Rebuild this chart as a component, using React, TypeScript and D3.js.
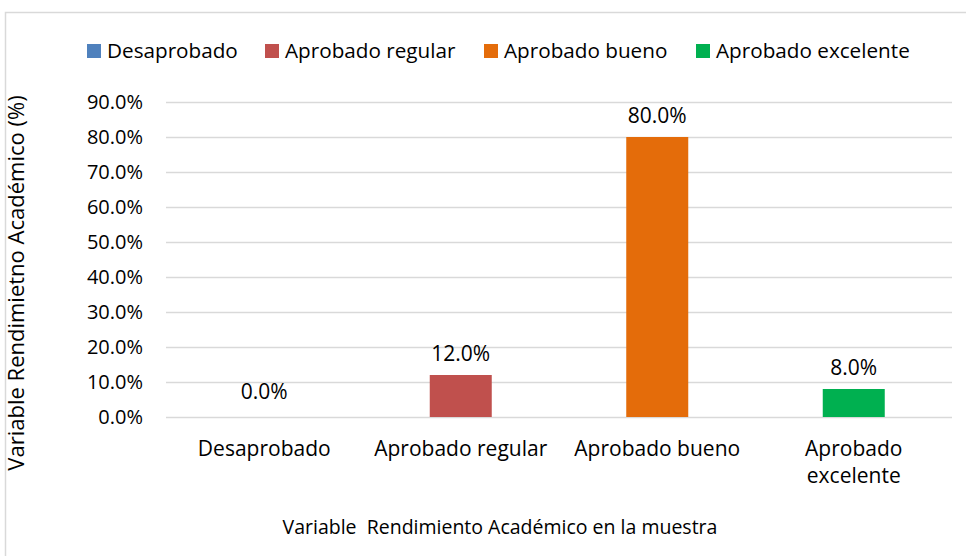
import React, { useEffect, useRef } from 'react';
import * as d3 from 'd3';

const categories = ['Desaprobado', 'Aprobado regular', 'Aprobado bueno', 'Aprobado excelente'];
const tickLines = [['Desaprobado'], ['Aprobado regular'], ['Aprobado bueno'], ['Aprobado', 'excelente']];
const values = [0.0, 12.0, 80.0, 8.0];
const colors = ['#4f81bd', '#c0504d', '#e46c0a', '#00b050'];
const yTicks = [0, 10, 20, 30, 40, 50, 60, 70, 80, 90];

const yTitle = 'Variable Rendimietno Académico (%)';
const xTitle = 'Variable  Rendimiento Académico en la muestra';

const W = 966;
const H = 556;
const FONT = "'Open Sans', 'Noto Sans', sans-serif";

const App = () => {
    const ref = useRef<SVGSVGElement>(null);

    useEffect(() => {
        const svg = d3.select(ref.current)
            .attr('width', W)
            .attr('height', H)
            .style('position', 'absolute')
            .style('left', 0)
            .style('top', 0)
            .style('font-family', FONT)
            .style('background', '#fff');

        svg.selectAll('*').remove();

        // chart frame (runs off the right and bottom edge)
        svg.append('rect')
            .attr('x', 5.5)
            .attr('y', 12.5)
            .attr('width', 1000)
            .attr('height', 600)
            .attr('fill', '#fff')
            .attr('stroke', '#d9d9d9')
            .attr('stroke-width', 1.5);

        const left = 166, right = 952, top = 102, bottom = 417;

        const x = d3.scaleBand()
            .domain(categories)
            .range([left, right])
            .padding(0);

        const y = d3.scaleLinear()
            .domain([0, 90])
            .range([bottom, top]);

        // grid
        svg.append('g')
            .selectAll('line')
            .data(yTicks)
            .enter()
            .append('line')
            .attr('x1', left)
            .attr('x2', right)
            .attr('y1', d => Math.round(y(d)) + 0.5)
            .attr('y2', d => Math.round(y(d)) + 0.5)
            .attr('stroke', '#d9d9d9')
            .attr('stroke-width', 1.5);

        // y tick labels
        svg.append('g')
            .selectAll('text')
            .data(yTicks)
            .enter()
            .append('text')
            .attr('x', 143)
            .attr('y', d => y(d) + 7)
            .attr('text-anchor', 'end')
            .attr('font-size', 20)
            .attr('fill', '#000')
            .text(d => d.toFixed(1) + '%');

        const barW = 62;

        svg.append('g')
            .selectAll('rect')
            .data(values)
            .enter()
            .append('rect')
            .attr('x', (d, i) => x(categories[i])! + x.bandwidth() / 2 - barW / 2)
            .attr('y', d => y(d))
            .attr('width', barW)
            .attr('height', d => bottom - y(d))
            .attr('fill', (d, i) => colors[i]);

        // data labels
        svg.append('g')
            .selectAll('text')
            .data(values)
            .enter()
            .append('text')
            .attr('x', (d, i) => x(categories[i])! + x.bandwidth() / 2)
            .attr('y', d => y(d) - (d === 0 ? 18 : 14))
            .attr('text-anchor', 'middle')
            .attr('font-size', 21)
            .attr('fill', '#000')
            .text(d => d.toFixed(1) + '%');

        // x tick labels
        const xl = svg.append('g')
            .selectAll('text')
            .data(tickLines)
            .enter()
            .append('text')
            .attr('x', (d, i) => x(categories[i])! + x.bandwidth() / 2)
            .attr('y', 456)
            .attr('text-anchor', 'middle')
            .attr('font-size', 21)
            .attr('fill', '#000');
        xl.selectAll('tspan')
            .data(d => d)
            .enter()
            .append('tspan')
            .attr('x', function () { return (this.parentNode as SVGTextElement).getAttribute('x'); })
            .attr('dy', (d, i) => (i === 0 ? 0 : 27))
            .text(d => d);

        // axis titles
        svg.append('text')
            .attr('x', 500)
            .attr('y', 534)
            .attr('text-anchor', 'middle')
            .attr('font-size', 19.5)
            .attr('xml:space', 'preserve')
            .style('white-space', 'pre')
            .attr('fill', '#000')
            .text(xTitle);

        svg.append('text')
            .attr('transform', 'translate(24, 283) rotate(-90)')
            .attr('text-anchor', 'middle')
            .attr('font-size', 22)
            .attr('fill', '#000')
            .text(yTitle);

        // legend
        const legendX = [87, 265, 484, 696];
        const lg = svg.append('g')
            .selectAll('g')
            .data(categories)
            .enter()
            .append('g')
            .attr('transform', (d, i) => `translate(${legendX[i]}, 44)`);
        lg.append('rect')
            .attr('width', 14)
            .attr('height', 14)
            .attr('fill', (d, i) => colors[i]);
        lg.append('text')
            .attr('x', 20)
            .attr('y', 13.5)
            .attr('font-size', 20.7)
            .attr('fill', '#000')
            .text(d => d);
    }, []);

    return (
        <svg ref={ref}></svg>
    );
}

export default App;
